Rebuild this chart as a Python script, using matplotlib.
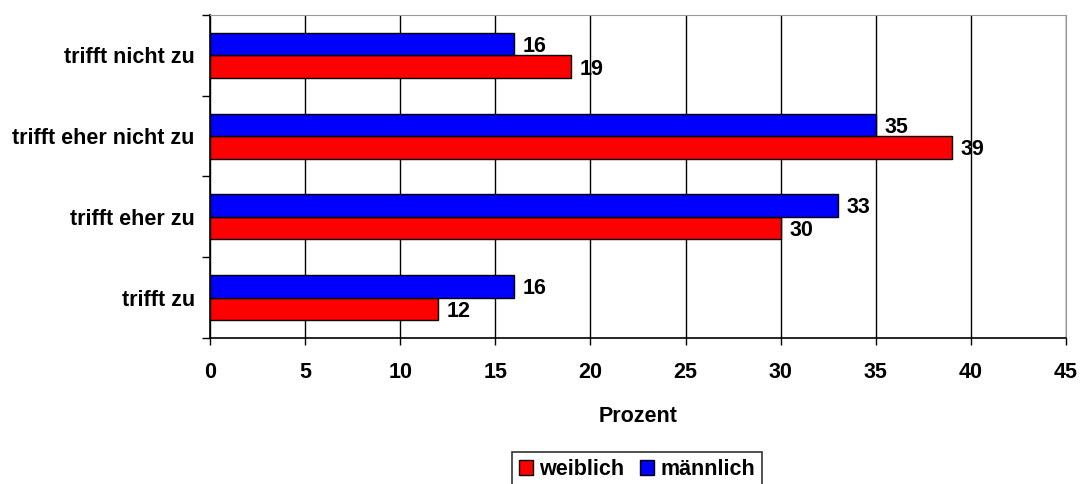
import numpy as np
import matplotlib.pyplot as plt

plt.rcParams['font.family'] = ['Liberation Sans', 'DejaVu Sans']
plt.rcParams['font.weight'] = 'bold'

# data
categories = ['trifft zu', 'trifft eher zu', 'trifft eher nicht zu', 'trifft nicht zu']
weiblich = [12, 30, 39, 19]
maennlich = [16, 33, 35, 16]

fs = 15.5

fig = plt.figure(figsize=(10.87, 4.84), dpi=100)
ax = fig.add_axes([0.1932, 0.3017, 0.7875, 0.6673])

y = np.arange(len(categories))
h = 0.28
b_w = ax.barh(y - h / 2, weiblich, height=h, color='#ff0000', edgecolor='black', linewidth=1, label='weiblich', zorder=3)
b_m = ax.barh(y + h / 2, maennlich, height=h, color='#0000ff', edgecolor='black', linewidth=1, label='männlich', zorder=3)

for yy, v in zip(y - h / 2, weiblich):
    ax.text(v + 0.45, yy - 0.03, str(v), va='center', ha='left', fontsize=fs, fontweight='bold', zorder=4)
for yy, v in zip(y + h / 2, maennlich):
    ax.text(v + 0.45, yy - 0.03, str(v), va='center', ha='left', fontsize=fs, fontweight='bold', zorder=4)

ax.set_xlim(0, 45)
ax.set_ylim(-0.5, 3.5)
ax.set_xticks(np.arange(0, 46, 5))
ax.tick_params(axis='x', labelsize=fs, length=5, width=1, direction='out', pad=12)
ax.set_yticks(y)
ax.set_yticklabels(categories, fontsize=fs, fontweight='bold')
ax.tick_params(axis='y', length=0, pad=11)
ax.set_yticks(np.arange(-0.5, 4, 1), minor=True)
ax.tick_params(axis='y', which='minor', length=6, width=1, direction='out')

ax.grid(axis='x', color='black', linewidth=1, zorder=0)
ax.spines['top'].set_color('#999999')
ax.spines['right'].set_color('#999999')
ax.spines['left'].set_linewidth(1.2)
ax.spines['bottom'].set_linewidth(1.2)

ax.set_xlabel('Prozent', fontsize=fs, fontweight='bold', labelpad=17)

leg = fig.legend(handles=[b_w, b_m], loc='upper center', bbox_to_anchor=(0.586, 0.067), ncol=2,
                 fontsize=fs, frameon=True, fancybox=False, edgecolor='black',
                 handlelength=0.65, handleheight=0.65, handletextpad=0.3, columnspacing=0.7,
                 borderpad=0.35, borderaxespad=0)
leg.get_frame().set_linewidth(1.2)

fig.savefig('out.png', dpi=100)
